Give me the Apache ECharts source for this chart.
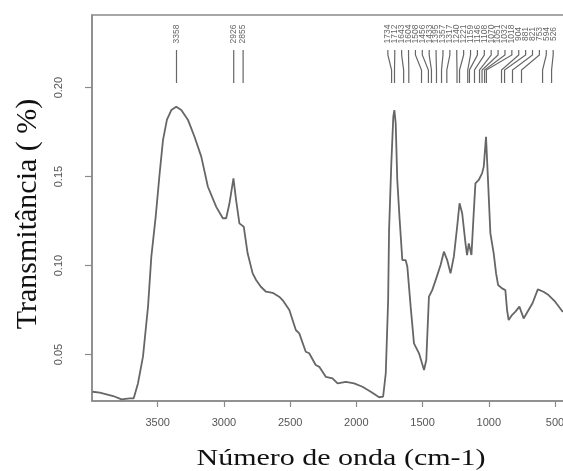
<!DOCTYPE html>
<html>
<head>
<meta charset="utf-8">
<script src="https://cdn.jsdelivr.net/npm/echarts@6/dist/echarts.min.js"></script>
<style>html,body{margin:0;padding:0;background:#fff}#c{width:563px;height:471px}</style>
</head>
<body>
<div id="c"></div>
<script>
// Wavenumber (cm-1) and transmittance values
const wavenumbers = [3992,3937,3836,3773,3711,3681,3649,3611,3573,3548,3515,3485,3460,3430,3397,3360,3322,3272,3222,3171,3121,3058,3008,2983,2958,2928,2908,2883,2850,2821,2783,2757,2721,2682,2632,2583,2557,2506,2457,2431,2382,2356,2307,2280,2231,2180,2142,2079,2017,1954,1891,1828,1798,1778,1760,1753,1736,1721,1713,1703,1691,1673,1653,1628,1615,1590,1565,1527,1489,1472,1452,1427,1397,1364,1339,1314,1289,1264,1239,1221,1201,1176,1164,1151,1131,1114,1101,1076,1051,1038,1021,1006,988,963,945,930,900,875,862,850,825,799,769,737,700,670,630,587,549,499,452,440];
const transmittance = [0.0291,0.0286,0.0267,0.0248,0.0254,0.0254,0.0338,0.0488,0.0769,0.105,0.1275,0.152,0.1705,0.182,0.1874,0.1893,0.1874,0.182,0.1724,0.1612,0.1443,0.133,0.1266,0.1266,0.135,0.149,0.1368,0.1237,0.1218,0.1069,0.0956,0.0919,0.0881,0.0853,0.0847,0.0825,0.0806,0.075,0.0638,0.0619,0.0516,0.0507,0.0441,0.0431,0.0375,0.0366,0.0338,0.0347,0.0338,0.0319,0.0291,0.026,0.0263,0.0394,0.0806,0.12,0.1575,0.1837,0.1874,0.18,0.1481,0.1256,0.1031,0.1031,0.0993,0.0769,0.0563,0.0507,0.0413,0.0469,0.0825,0.0862,0.0928,0.1003,0.1078,0.1031,0.0956,0.105,0.1218,0.135,0.1294,0.1125,0.1059,0.1125,0.1059,0.1294,0.1462,0.1481,0.1518,0.1556,0.1724,0.1481,0.1181,0.1069,0.0956,0.0891,0.0872,0.0862,0.075,0.0694,0.0722,0.0741,0.0769,0.0703,0.075,0.0788,0.0866,0.0853,0.0834,0.0797,0.075,0.074];

// Peak annotations
const peaksLeft = [3358, 2926, 2855];
const peaksRight = [1734,1712,1643,1604,1508,1456,1433,1395,1357,1317,1240,1221,1159,1146,1108,1070,1051,1032,1018,904,881,821,753,594,526];

const xTicks = [3500,3000,2500,2000,1500,1000,500];
const yTicks = [0.05,0.10,0.15,0.20];

const X_MIN = 402, X_MAX = 3996, Y_MIN = 0.0239, Y_MAX = 0.2408;

const lineData = wavenumbers.map((w,i)=>[w, transmittance[i]]);
const annData = [];
peaksLeft.forEach(p => annData.push([p, p]));
const slotStart = 1762, slotStep = 52;
peaksRight.forEach((p,i) => annData.push([p, slotStart - i*slotStep]));

const chart = echarts.init(document.getElementById('c'), null, {renderer:'canvas'});
const axisCol = '#8a8a8a';
const txtCol = '#555';
chart.setOption({
  animation:false,
  backgroundColor:'#fff',
  grid:{left:92, width:476, top:15, height:386, show:true, borderColor:axisCol, borderWidth:1.5, containLabel:false, outerBoundsMode:'none'},
  xAxis:{
    type:'value', inverse:true, min:X_MIN, max:X_MAX,
    axisLine:{show:true, onZero:false, lineStyle:{color:axisCol, width:1.5}},
    axisTick:{show:true, length:6, customValues:xTicks, lineStyle:{color:axisCol, width:1.2}},
    axisLabel:{customValues:xTicks, color:txtCol, fontSize:11, fontFamily:'Liberation Sans', margin:16, formatter:v=>String(v)},
    splitLine:{show:false}
  },
  yAxis:{
    type:'value', min:Y_MIN, max:Y_MAX,
    axisLine:{show:true, onZero:false, lineStyle:{color:axisCol, width:1.5}},
    axisTick:{show:true, length:7, customValues:yTicks, lineStyle:{color:axisCol, width:1.2}},
    axisLabel:{customValues:yTicks, rotate:90, color:txtCol, fontSize:11, fontFamily:'Liberation Sans', margin:28,
      formatter:v=>v.toFixed(2)},
    splitLine:{show:false}
  },
  graphic:[
    {type:'text', x:341, y:459, style:{text:'Número de onda (cm-1)', font:'24px "Liberation Serif"', fill:'#111', align:'center', verticalAlign:'middle'}, scaleX:1.25},
    {type:'text', x:28, y:214, rotation:Math.PI/2, style:{text:'Transmitância ( %)', font:'30px "Liberation Serif"', fill:'#111', align:'center', verticalAlign:'middle'}}
  ],
  series:[
    {type:'line', data:lineData, showSymbol:false, smooth:false, lineStyle:{color:'#666', width:1.8}, z:3},
    {type:'custom', data:annData, clip:false, z:4,
      renderItem:(params, api)=>{
        const p = api.coord([api.value(0), Y_MAX]);
        const l = api.coord([api.value(1), Y_MAX]);
        const top = p[1];
        return {type:'group', children:[
          {type:'polyline', shape:{points:[[l[0],top+35],[l[0],top+40],[p[0],top+55],[p[0],top+68]]}, style:{stroke:'#666', lineWidth:1.2, fill:null}},
          {type:'text', x:l[0], y:top+19, rotation:Math.PI/2, style:{text:String(api.value(0)), font:'8.5px "Liberation Sans"', fill:'#666', align:'center', verticalAlign:'middle'}}
        ]};
      }
    }
  ]
});
</script>
</body>
</html>
